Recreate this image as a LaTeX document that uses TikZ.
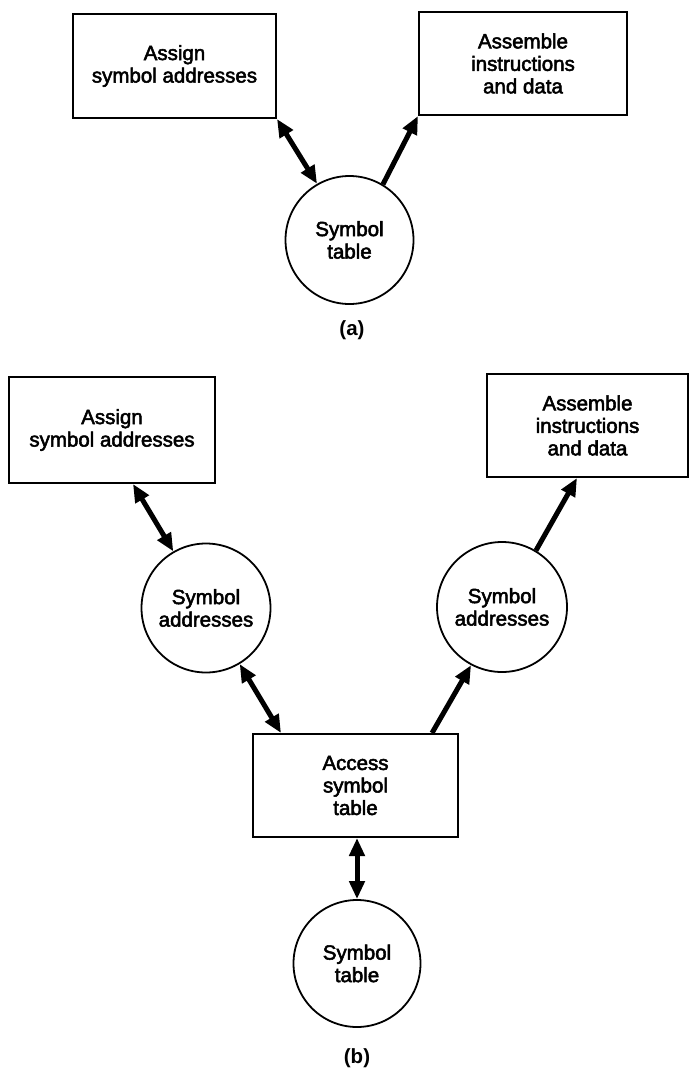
\documentclass[tikz,border=0pt]{standalone}
\usepackage{fontspec}
\setmainfont{Liberation Sans}
\newfontfamily\boxfont{Liberation Sans}[FakeBold=2.5]
\usetikzlibrary{arrows.meta}

\tikzset{
  every node/.style={font=\boxfont\fontsize{20.5}{22.5}\selectfont, align=center, inner sep=0pt},
  procbox/.style={draw, line width=2pt, rectangle},
  storecircle/.style={draw, line width=1.8pt, circle},
  flowtip/.style={line width=5pt, -{Triangle[length=18pt,width=15pt]}},
  bothtip/.style={line width=5pt, {Triangle[length=18pt,width=15pt]}-{Triangle[length=18pt,width=15pt]}},
  caption/.style={font=\fontsize{20.5}{22}\selectfont\bfseries}
}

\begin{document}
\begin{tikzpicture}[x=1pt, y=-1pt]
\useasboundingbox (0,0) rectangle (690,1076);

% ---------- (a) ----------
\node[procbox, minimum width=203pt, minimum height=104pt] (a1) at (174.5,66) {Assign\\symbol addresses};
\node[procbox, minimum width=208pt, minimum height=103pt] (a2) at (523,63.5) {Assemble\\instructions\\and data};
\node[storecircle, minimum size=128pt] (at) at (349.5,240) {Symbol\\table};
\node[caption] (capa) at (352,330) {(a)};

\draw[bothtip] (a1.south east) -- (at.120);
\draw[flowtip] (at.59) -- (a2.south west);

% ---------- (b) ----------
\node[procbox, minimum width=206pt, minimum height=106pt] (b1) at (112,430) {Assign\\symbol addresses};
\node[procbox, minimum width=201pt, minimum height=103pt] (b2) at (587.5,425.5) {Assemble\\instructions\\and data};
\node[storecircle, minimum size=129pt] (s1) at (206,608) {Symbol\\addresses};
\node[storecircle, minimum size=130pt] (s2) at (502,607) {Symbol\\addresses};
\node[procbox, minimum width=205pt, minimum height=103pt] (acc) at (355.5,785.5) {Access\\symbol\\table};
\node[storecircle, minimum size=127pt] (st) at (357,963.5) {Symbol\\table};
\node[caption] (capb) at (357,1058) {(b)};

\draw[bothtip] ([xshift=21pt]b1.south) -- (s1.120);
\draw[bothtip] (s1.-59) -- ([xshift=-74.5pt]acc.north);
\draw[flowtip] ([xshift=76.5pt]acc.north) -- (s2.242);
\draw[flowtip] (s2.59) -- ([xshift=-10.5pt]b2.south);
\draw[bothtip] (st.north |- acc.south) -- (st.north);
\end{tikzpicture}
\end{document}
